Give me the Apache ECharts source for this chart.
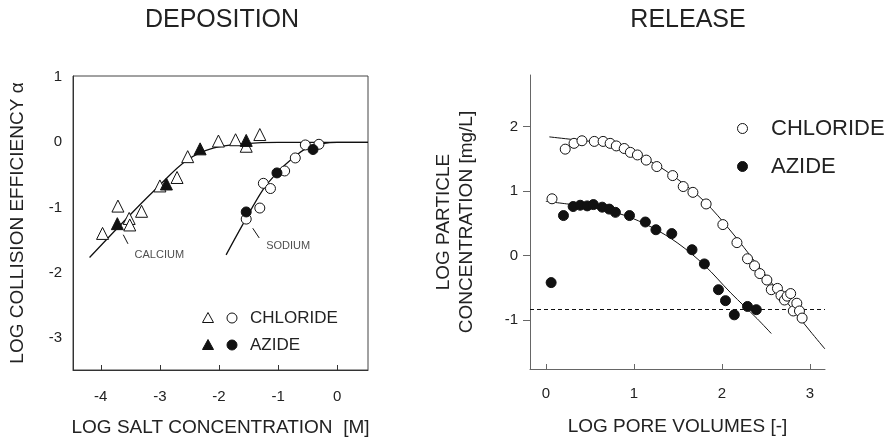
<!DOCTYPE html>
<html>
<head>
<meta charset="utf-8">
<script src="https://cdn.jsdelivr.net/npm/echarts@6/dist/echarts.min.js"></script>
<style>
html, body { margin: 0; padding: 0; background: #fff; }
#myEcharts { width: 890px; height: 438px; }
</style>
</head>
<body>
<div id="myEcharts"></div>
<script>
// ---- deposition panel (log salt conc, log alpha) ----
const caChloride = [[-3.97, -1.40], [-3.71, -0.98], [-3.52, -1.17], [-3.51, -1.27], [-3.31, -1.06], [-3.00, -0.67],
  [-2.71, -0.54], [-2.53, -0.22], [-2.01, 0.02], [-1.72, 0.04], [-1.54, -0.06], [-1.31, 0.12]]
const caAzide = [[-3.72, -1.25], [-2.89, -0.64], [-2.32, -0.10], [-1.54, 0.03]]
const naChloride = [[-1.54, -1.18], [-1.31, -1.01], [-1.25, -0.63], [-1.13, -0.71], [-0.89, -0.44], [-0.71, -0.24],
  [-0.54, -0.04], [-0.31, -0.03]]
const naAzide = [[-1.54, -1.07], [-1.02, -0.47], [-0.41, -0.11]]
const caFit = [[-4.19, -1.77], [-3.51, -1.12], [-3.06, -0.71], [-2.55, -0.28], [-2.10, -0.09], [-1.54, -0.02], [-1.0, 0], [0.52, 0]]
const naFit = [[-1.88, -1.73], [-1.59, -1.25], [-1.25, -0.72], [-1.0, -0.45], [-0.75, -0.24], [-0.5, -0.08], [-0.25, -0.02], [0, 0], [0.52, 0]]
const caLeader = [[-3.62, -1.42], [-3.54, -1.56]]
const naLeader = [[-1.43, -1.32], [-1.32, -1.47]]
const notes = [{ name: 'CALCIUM', value: [-3.01, -1.73] }, { name: 'SODIUM', value: [-0.83, -1.60] }]
const depXTicks = [-4, -3, -2, -1, 0]
const depYTicks = [-3, -2, -1, 0, 1]

// ---- release panel (log pore volumes, log particle conc) ----
const relChloride = [[0.07, 0.88], [0.22, 1.65], [0.32, 1.74], [0.41, 1.78], [0.55, 1.77], [0.65, 1.77], [0.73, 1.74],
  [0.80, 1.70], [0.89, 1.66], [0.96, 1.60], [1.04, 1.56], [1.14, 1.48], [1.26, 1.38], [1.44, 1.24], [1.56, 1.07],
  [1.67, 0.98], [1.82, 0.80], [2.01, 0.48], [2.17, 0.20], [2.29, -0.05], [2.37, -0.16], [2.43, -0.28], [2.51, -0.38],
  [2.56, -0.53], [2.63, -0.51], [2.67, -0.62], [2.71, -0.69], [2.74, -0.63], [2.78, -0.59], [2.81, -0.86],
  [2.85, -0.74], [2.88, -0.86], [2.91, -0.97]]
const relAzide = [[0.06, -0.42], [0.20, 0.62], [0.31, 0.76], [0.39, 0.78], [0.47, 0.77], [0.54, 0.79], [0.64, 0.75],
  [0.72, 0.72], [0.79, 0.67], [0.95, 0.62], [1.13, 0.52], [1.25, 0.40], [1.43, 0.34], [1.66, 0.09], [1.80, -0.13],
  [1.96, -0.53], [2.04, -0.70], [2.14, -0.92], [2.29, -0.79], [2.39, -0.84]]
const chlorideFit = [[0.04, 1.84], [0.3, 1.80], [0.6, 1.75], [0.9, 1.63], [1.2, 1.45], [1.5, 1.18], [1.8, 0.84],
  [2.1, 0.38], [2.4, -0.14], [2.7, -0.66], [3.0, -1.17], [3.17, -1.45]]
const azideFit = [[0, 0.84], [0.3, 0.79], [0.6, 0.73], [0.9, 0.62], [1.2, 0.44], [1.5, 0.19], [1.8, -0.15],
  [2.1, -0.58], [2.4, -0.98], [2.56, -1.21]]
const detectionLimit = -0.84
const relXTicks = [0, 1, 2, 3]
const relYTicks = [-1, 0, 1, 2]

const ink = '#111'
const font = 'Liberation Sans, Arial, sans-serif'

const myChart = echarts.init(document.getElementById('myEcharts'), null, { renderer: 'canvas' })

function marker (data, symbol, filled, size, axis) {
  return {
    type: 'scatter',
    xAxisIndex: axis,
    yAxisIndex: axis,
    symbol: symbol,
    symbolSize: size,
    data: data,
    z: 5,
    itemStyle: { color: filled ? ink : '#fff', borderColor: ink, borderWidth: 1, opacity: 1 }
  }
}

function curve (data, axis, width, smooth) {
  return {
    type: 'line',
    xAxisIndex: axis,
    yAxisIndex: axis,
    data: data,
    smooth: smooth,
    showSymbol: false,
    symbol: 'none',
    z: 3,
    lineStyle: { color: ink, width: width }
  }
}

myChart.setOption({
  animation: false,
  textStyle: { fontFamily: font },
  grid: [
    { left: 73, top: 76, right: 522, bottom: 68, show: true, borderColor: '#444', borderWidth: 1, outerBoundsMode: 'none' },
    { left: 530, top: 75, right: 65, bottom: 69, outerBoundsMode: 'none' }
  ],
  xAxis: [
    {
      gridIndex: 0,
      type: 'value',
      min: -4.47,
      max: 0.52,
      name: 'LOG SALT CONCENTRATION  [M]',
      nameLocation: 'middle',
      nameGap: 48,
      nameTextStyle: { fontSize: 19, color: '#222' },
      axisLine: { onZero: false, lineStyle: { color: '#333' } },
      axisTick: { inside: true, length: 5, customValues: depXTicks, lineStyle: { color: '#333' } },
      axisLabel: { customValues: depXTicks, fontSize: 15, color: '#222', margin: 19 },
      splitLine: { show: false }
    },
    {
      gridIndex: 1,
      type: 'value',
      min: -0.18,
      max: 3.17,
      name: 'LOG PORE VOLUMES [-]',
      nameLocation: 'middle',
      nameGap: 48,
      nameTextStyle: { fontSize: 19, color: '#222' },
      axisLine: { onZero: false, lineStyle: { color: '#666' } },
      axisTick: { inside: true, length: 5, customValues: relXTicks, lineStyle: { color: '#666' } },
      axisLabel: { customValues: relXTicks, fontSize: 15, color: '#222', margin: 17 },
      splitLine: { show: false }
    }
  ],
  yAxis: [
    {
      gridIndex: 0,
      type: 'value',
      min: -3.5,
      max: 1.02,
      name: 'LOG COLLISION EFFICIENCY α',
      nameLocation: 'middle',
      nameGap: 46,
      nameTextStyle: { fontSize: 19, color: '#222' },
      axisLine: { onZero: false, lineStyle: { color: '#333' } },
      axisTick: { show: false },
      axisLabel: { customValues: depYTicks, fontSize: 15, color: '#222', margin: 11 },
      splitLine: { show: false }
    },
    {
      gridIndex: 1,
      type: 'value',
      min: -1.76,
      max: 2.8,
      name: 'LOG PARTICLE\nCONCENTRATION [mg/L]',
      nameLocation: 'middle',
      nameGap: 52,
      nameTextStyle: { fontSize: 19, color: '#222', lineHeight: 23 },
      axisLine: { onZero: false, lineStyle: { color: '#666' } },
      axisTick: { inside: false, length: 7, customValues: relYTicks, lineStyle: { color: '#666' } },
      axisLabel: { customValues: relYTicks, fontSize: 15, color: '#222', margin: 12 },
      splitLine: { show: false }
    }
  ],
  graphic: [
    { type: 'text', x: 222, y: 8, style: { text: 'DEPOSITION', fontSize: 25, fill: '#222', textAlign: 'center', fontFamily: font } },
    { type: 'text', x: 688, y: 8, style: { text: 'RELEASE', fontSize: 25, fill: '#222', textAlign: 'center', fontFamily: font } },
    // legend of the deposition panel
    { type: 'polygon', shape: { points: [[208, 312.5], [202.5, 322.5], [213.5, 322.5]] }, style: { fill: '#fff', stroke: ink, lineWidth: 1 } },
    { type: 'circle', shape: { cx: 232, cy: 318, r: 5 }, style: { fill: '#fff', stroke: ink, lineWidth: 1 } },
    { type: 'text', x: 250, y: 318, style: { text: 'CHLORIDE', fontSize: 17, fill: '#222', textVerticalAlign: 'middle', fontFamily: font } },
    { type: 'polygon', shape: { points: [[208, 339.5], [202.5, 349.5], [213.5, 349.5]] }, style: { fill: ink, stroke: ink, lineWidth: 1 } },
    { type: 'circle', shape: { cx: 232, cy: 345, r: 5 }, style: { fill: ink, stroke: ink, lineWidth: 1 } },
    { type: 'text', x: 250, y: 345, style: { text: 'AZIDE', fontSize: 17, fill: '#222', textVerticalAlign: 'middle', fontFamily: font } },
    // legend of the release panel
    { type: 'circle', shape: { cx: 742.5, cy: 128.5, r: 5 }, style: { fill: '#fff', stroke: ink, lineWidth: 1 } },
    { type: 'text', x: 771, y: 129, style: { text: 'CHLORIDE', fontSize: 22, fill: '#222', textVerticalAlign: 'middle', fontFamily: font } },
    { type: 'circle', shape: { cx: 742.5, cy: 166.5, r: 5 }, style: { fill: ink, stroke: ink, lineWidth: 1 } },
    { type: 'text', x: 771, y: 167, style: { text: 'AZIDE', fontSize: 22, fill: '#222', textVerticalAlign: 'middle', fontFamily: font } }
  ],
  series: [
    curve(caFit, 0, 1.3, 0.35),
    curve(naFit, 0, 1.3, 0.35),
    curve(caLeader, 0, 1, false),
    curve(naLeader, 0, 1, false),
    marker(caChloride, 'triangle', false, 12, 0),
    marker(caAzide, 'triangle', true, 12, 0),
    marker(naChloride, 'circle', false, 10, 0),
    marker(naAzide, 'circle', true, 10, 0),
    {
      type: 'scatter',
      xAxisIndex: 0,
      yAxisIndex: 0,
      symbolSize: 0,
      data: notes,
      label: {
        show: true,
        position: 'inside',
        formatter: '{b}',
        fontSize: 11,
        color: '#222'
      }
    },
    Object.assign(curve(chlorideFit, 1, 1, 0.35), {
      markLine: {
        silent: true,
        symbol: 'none',
        label: { show: false },
        lineStyle: { color: ink, type: [4, 3], width: 1 },
        data: [{ yAxis: detectionLimit }]
      }
    }),
    curve(azideFit, 1, 1, 0.35),
    marker(relChloride, 'circle', false, 10, 1),
    marker(relAzide, 'circle', true, 10, 1)
  ]
})
window.addEventListener('resize', () => {
  myChart.resize()
})
</script>
</body>
</html>
